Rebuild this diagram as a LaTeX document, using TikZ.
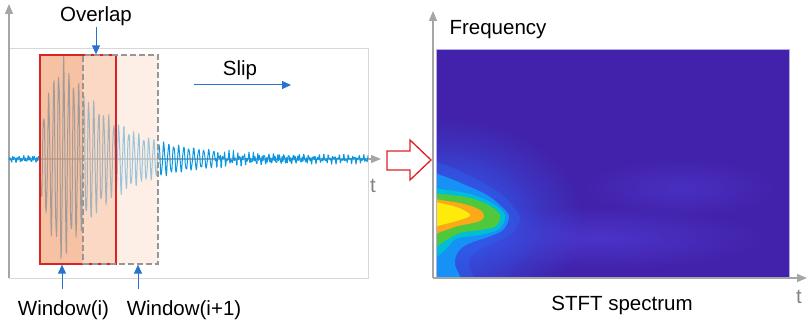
\documentclass[tikz,border=0pt]{standalone}
\usepackage{fontspec}
\setmainfont{Liberation Sans}
\usetikzlibrary{arrows.meta,fadings}

\definecolor{axisgray}{RGB}{165,165,165}
\definecolor{framegray}{RGB}{215,215,215}
\definecolor{sigblue}{RGB}{10,150,225}
\definecolor{arrowblue}{RGB}{40,115,205}
\definecolor{boxred}{RGB}{220,35,35}
\definecolor{dashgray}{RGB}{150,150,150}
\definecolor{win1fill}{RGB}{242,160,115}
\definecolor{ovfill}{RGB}{248,195,165}
\definecolor{win2fill}{RGB}{252,228,212}
\definecolor{specbg}{RGB}{66,34,170}
\definecolor{specborder}{RGB}{180,170,230}
\definecolor{glow}{RGB}{50,90,238}
\definecolor{streak}{RGB}{82,64,222}
\definecolor{midblue}{RGB}{40,105,242}
\definecolor{azure}{RGB}{22,145,245}
\definecolor{cyanband}{RGB}{0,190,215}
\definecolor{greenband}{RGB}{80,200,60}
\definecolor{orangeband}{RGB}{250,170,25}
\definecolor{yellowband}{RGB}{255,235,10}
\definecolor{tgray}{RGB}{130,130,130}

\tikzfading[name=softglow, inner color=transparent!0, outer color=transparent!100]

\begin{document}
\begin{tikzpicture}[x=1pt, y=-1pt,
  font=\fontsize{20.5}{24}\selectfont,
  lbl/.style={inner sep=0pt, anchor=base},
  axisline/.style={axisgray, line width=1.2pt, -{Triangle[length=10pt,width=8pt]}},
  barrow/.style={arrowblue, line width=1pt, -{Triangle[length=9pt,width=8pt]}},
  winbox/.style={inner sep=0pt, minimum height=209pt},
  declare function={
    env(\x)=(\x<40)*3.5 + and(\x>=40,\x<61)*(40+3.3*(\x-40)) + (\x>=61)*(4+106*exp(-(\x-61)/50));
    mix(\x)=and(\x>40,\x<215);
    sa(\x)=sin(72*mod(\x,5));
    sb(\x)=sin(191*mod(\x,1.884817));
    sc(\x)=sin(163*mod(\x,2.208589)+30);
    sd(\x)=sin(251*mod(\x,1.434263)+10);
    sig(\x)=env(\x)*( mix(\x)*(0.88*sa(\x)+0.12*sb(\x))
             + (1-mix(\x))*(0.45*sa(\x)+0.45*sc(\x)+0.3*sd(\x)) );
  }]
\useasboundingbox (0,0) rectangle (809,321);

% ---------- left panel ----------
\draw[framegray, line width=1pt] (9,49) rectangle (368,278);
\draw[axisline] (9,278) -- (9,4);
\draw[axisline] (9,159) -- (381,159);

\draw[sigblue, line width=1pt, line join=round]
  plot[domain=9:368, samples=900, variable=\x] (\x, {159+sig(\x)});

\fill[win1fill, opacity=0.65] (40,55) rectangle (83,264);
\fill[ovfill, opacity=0.65] (83,55) rectangle (116,264);
\fill[win2fill, opacity=0.6] (116,55) rectangle (158,264);

\node[winbox, draw=boxred, line width=1.3pt, minimum width=76pt] (w1) at (78,159.5) {};
\node[winbox, draw=dashgray, dashed, dash pattern=on 6pt off 3pt, line width=1.2pt, minimum width=75pt] (w2) at (120.5,159.5) {};

\node[lbl] (ovl) at (96,21.5) {Overlap};
\node[lbl] (slip) at (240,76) {Slip};
\node[lbl] (lab1) at (63.5,315) {Window(i)};
\node[lbl] (lab2) at (184,315) {Window(i+1)};
\node[lbl, text=tgray] (t1) at (373,192.7) {t};

\draw[barrow, shorten <=1pt] (ovl.south) -- (ovl.south |- w1.north);
\coordinate (slipA) at (194,85);
\coordinate (slipB) at (291,85);
\draw[barrow] (slipA) -- (slipB);
\coordinate (a1) at (62,289);
\coordinate (a2) at (138,289);
\draw[barrow] (a1) -- (a1 |- w1.south);
\draw[barrow] (a2) -- (a2 |- w2.south);

% ---------- hollow red arrow ----------
\draw[boxred, line width=1.3pt, line join=miter, fill=white]
  (387,151) -- (410,151) -- (410,140) -- (431,160) -- (410,180) -- (410,170) -- (387,170) -- cycle;

% ---------- right panel ----------
\begin{scope}
  \clip (436,49) rectangle (789,277);
  \fill[specbg] (436,49) rectangle (789,277);
  \fill[streak, path fading=softglow, opacity=0.6] (600,238) ellipse [x radius=170, y radius=32];
  \fill[streak, path fading=softglow, opacity=0.45] (680,188) ellipse [x radius=100, y radius=30];
  \fill[glow, path fading=softglow] (445,222) ellipse [x radius=140, y radius=105];
  \fill[glow, path fading=softglow, opacity=0.6] (450,222) ellipse [x radius=95, y radius=75];
  \fill[midblue, opacity=0.35] plot[smooth cycle, tension=0.6] coordinates
    {(425,162) (442,164) (472,177) (500,193) (516,210) (520,220) (511,234) (492,244) (476,252) (469,263) (472,285) (425,285)};
  \fill[azure] plot[smooth cycle, tension=0.6] coordinates
    {(425,174) (440,175) (463,184) (487,195) (502,207) (509,217) (503,230) (488,237) (468,244) (458,252) (455,264) (460,285) (425,285)};
  \fill[cyanband] plot[smooth cycle, tension=0.6] coordinates
    {(425,188) (440,189) (470,194) (492,203) (505,215) (499,229) (480,235) (456,239) (444,251) (425,259)};
  \fill[greenband] plot[smooth cycle, tension=0.6] coordinates
    {(425,194) (440,194) (470,198) (490,206) (500,215) (496,226) (480,230) (460,233) (443,242) (425,251)};
  \fill[orangeband] plot[smooth cycle, tension=0.6] coordinates
    {(425,199) (440,200) (464,204) (480,210) (484,217) (477,222) (458,226) (443,231) (425,235)};
  \fill[yellowband] plot[smooth cycle, tension=0.6] coordinates
    {(425,202) (440,203) (459,208) (470,215) (460,220) (441,225) (425,228)};
\end{scope}
\draw[specborder, line width=0.8pt] (436,49) rectangle (789,277);
\draw[axisline] (433,278) -- (433,11);
\draw[axisline] (433,278) -- (807,278);

\node[lbl] (freq) at (498,35) {Frequency};
\node[lbl] (stft) at (622,310) {STFT spectrum};
\node[lbl, text=tgray] (t2) at (799,303) {t};
\end{tikzpicture}
\end{document}
